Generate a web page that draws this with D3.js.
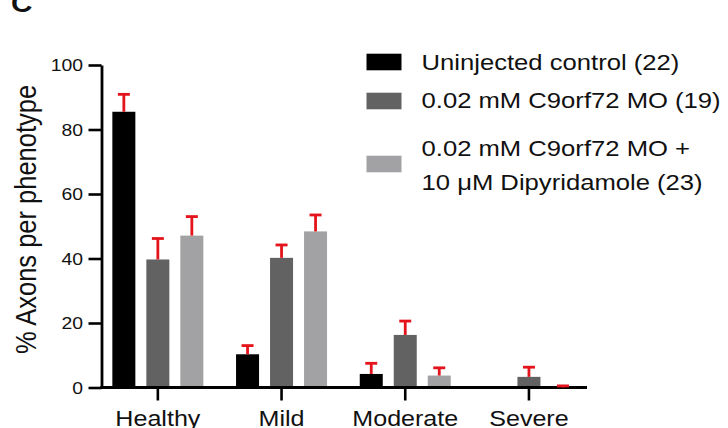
<!DOCTYPE html>
<html>
<head>
<meta charset="utf-8">
<script src="https://cdn.jsdelivr.net/npm/d3@7"></script>
<style>
  html, body { margin: 0; padding: 0; background: #fff; }
  svg { display: block; }
  text { font-family: "Liberation Sans", Arial, Helvetica, sans-serif; fill: #111; }
</style>
</head>
<body>
<svg id="chart" width="728" height="428"></svg>
<script>
// ---- data ----
const categories = ["Healthy", "Mild", "Moderate", "Severe"];
const seriesNames = ["Uninjected control (22)", "0.02 mM C9orf72 MO (19)", "0.02 mM C9orf72 MO + 10 μM Dipyridamole (23)"];
const legendLines = [["Uninjected control (22)"], ["0.02 mM C9orf72 MO (19)"], ["0.02 mM C9orf72 MO +", "10 μM Dipyridamole (23)"]];
const controlMean = [85.5, 10.3, 4.2, 0];
const controlErr  = [5.4, 2.7, 3.3, 0];
const moMean      = [39.7, 40.2, 16.3, 3.3];
const moErr       = [6.5, 4.0, 4.3, 3.0];
const dipMean     = [47.1, 48.4, 3.7, 0];
const dipErr      = [5.9, 5.1, 2.4, 0.5];
const yTicks = [0, 20, 40, 60, 80, 100];
const yTitle = "% Axons per phenotype";
const panelLabel = "C";

const means = [controlMean, moMean, dipMean];
const errs = [controlErr, moErr, dipErr];
const colors = ["#000000", "#626262", "#a2a2a4"];
const errColor = "#e3141b";
const SX = 1.14; // horizontal text stretch seen in the reference

const svg = d3.select("#chart");

const x = d3.scaleBand().domain(categories).range([96, 590.8]).padding(0);
const p = 11 / 34;
const xs = d3.scaleBand().domain(d3.range(seriesNames.length)).range([-51, 51]).paddingInner(p).paddingOuter(p / 2);
const y = d3.scaleLinear().domain([0, 100]).range([387.5, 65]);

function stext(g, tx, ty, str, size, anchor, extra) {
  const gg = g.append("g").attr("transform", `translate(${tx},${ty}) scale(${SX},1)` + (extra || ""));
  return gg.append("text").attr("x", 0).attr("y", 0).attr("text-anchor", anchor).attr("font-size", size).text(str);
}

// data rows
const rows = [];
categories.forEach((c, ci) => {
  seriesNames.forEach((s, si) => {
    rows.push({ cat: c, si, v: means[si][ci], e: errs[si][ci] });
  });
});
const barX = d => x(d.cat) + x.bandwidth() / 2 + xs(d.si);

// bars
svg.append("g").selectAll("rect").data(rows).join("rect")
  .attr("x", barX)
  .attr("width", xs.bandwidth())
  .attr("y", d => y(d.v))
  .attr("height", d => y(0) - y(d.v))
  .attr("fill", d => colors[d.si]);

// y axis
const yAxis = svg.append("g").attr("transform", `translate(101.5,0)`)
  .call(d3.axisLeft(y).tickValues(yTicks).tickSize(13).tickSizeOuter(0).tickFormat(""));
yAxis.selectAll("line").attr("stroke", "#000").attr("stroke-width", 2.6);
yAxis.select(".domain").attr("stroke", "#000").attr("stroke-width", 2.8);
yTicks.forEach(t => stext(svg, 83, y(t) + 6, String(t), 17, "end"));

// x axis
const xAxis = svg.append("g").attr("transform", `translate(0,${y(0)})`)
  .call(d3.axisBottom(x).tickSize(13).tickSizeOuter(0).tickFormat(""));
xAxis.select(".domain").remove();
xAxis.selectAll("line").attr("stroke", "#000").attr("stroke-width", 2.6);
xAxis.append("line").attr("x1", 100.2).attr("x2", 587).attr("y1", 0).attr("y2", 0)
  .attr("stroke", "#000").attr("stroke-width", 2.8);
categories.forEach(c => stext(svg, x(c) + x.bandwidth() / 2, 426, c, 22, "middle"));

// error bars (upper only)
const eg = svg.append("g").attr("stroke", errColor).attr("stroke-width", 2.8).attr("fill", "none");
rows.filter(d => d.e > 0).forEach(d => {
  const cx = barX(d) + xs.bandwidth() / 2;
  eg.append("line").attr("x1", cx).attr("x2", cx).attr("y1", y(d.v)).attr("y2", y(d.v + d.e));
  eg.append("line").attr("x1", cx - 6).attr("x2", cx + 6).attr("y1", y(d.v + d.e)).attr("y2", y(d.v + d.e));
});

// y title
stext(svg, 36, 219.5, yTitle, 25.5, "middle", " rotate(-90)");

// panel label
stext(svg, 11, 12, panelLabel, 26, "start").attr("font-weight", "bold");

// legend
const legCenters = [62, 101, 164];
const lineCenters = [[62], [100], [148, 182]];
legendLines.forEach((lines, i) => {
  svg.append("rect").attr("x", 366.5).attr("y", legCenters[i] - 8.3).attr("width", 35).attr("height", 16.6).attr("fill", colors[i]);
  lines.forEach((ln, j) => stext(svg, 421.5, lineCenters[i][j] + 8, ln, 22.5, "start"));
});
</script>
</body>
</html>
